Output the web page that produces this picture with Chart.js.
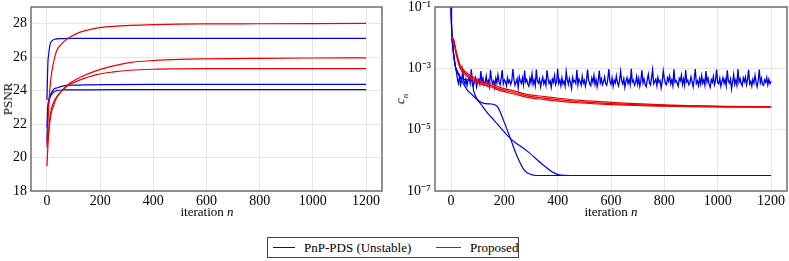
<!DOCTYPE html>
<html>
<head>
<meta charset="utf-8">
<script src="https://cdn.jsdelivr.net/npm/chart.js@4.4.1/dist/chart.umd.min.js"></script>
<style>
    body { margin: 0; background: #fff; font-family: "Liberation Serif", serif; }
    #wrap { position: relative; width: 789px; height: 261px; overflow: hidden; }
    .box { position: absolute; top: 0; height: 225px; }
    .lbl { position: absolute; font-size: 13px; color: #000; white-space: nowrap; transform: translate(-50%, -50%); }
    .rot { transform: translate(-50%, -50%) rotate(-90deg); }
    #legend { position: absolute; left: 267px; top: 237px; width: 252px; height: 21px; box-sizing: border-box; border: 1px solid #444; font-size: 13px; }
    #legend span { position: absolute; }
    #legend .ln { top: 9px; height: 1.2px; }
    #legend .tx { top: 2px; }
</style>
</head>
<body>
<div id="wrap">
    <div class="box" style="left:0; width:390px;"><canvas id="psnrChart"></canvas></div>
    <div class="box" style="left:390px; width:399px;"><canvas id="cnChart"></canvas></div>

    <div class="lbl rot" style="left:8px; top:99px;">PSNR</div>
    <div class="lbl" style="left:207px; top:212px;">iteration <i>n</i></div>
    <div class="lbl rot" style="left:401px; top:99px;"><i>c</i><sub style="font-size:9px;"><i>n</i></sub></div>
    <div class="lbl" style="left:611px; top:212px;">iteration <i>n</i></div>

    <div id="legend">
        <span class="ln" style="left:5px; width:22px; background:#0000ee;"></span>
        <span class="tx" style="left:36px;">PnP-PDS (Unstable)</span>
        <span class="ln" style="left:168px; width:25px; background:#ee0000;"></span>
        <span class="tx" style="left:202px;">Proposed</span>
    </div>
</div>

<script>
'use strict';

// ---- 왼쪽: PSNR ----
var iterTicks = [0, 200, 400, 600, 800, 1000, 1200];
var psnrTicks = [18, 20, 22, 24, 26, 28];

var psnrIterBlue1 = [0, 2, 4, 6, 9, 12, 19, 31, 50, 100, 400, 800, 1200];
var psnrBlue1 = [23.44, 24.8, 25.8, 26.1, 26.5, 26.78, 26.98, 27.08, 27.11, 27.12, 27.12, 27.12, 27.12];

var psnrIterBlue = [0, 3, 6, 12, 25, 37, 62, 100, 150, 400, 800, 1200];
var psnrBlue2 = [21.8, 23.0, 23.4, 23.7, 24.08, 24.16, 24.28, 24.33, 24.35, 24.37, 24.37, 24.37];
var psnrBlue3 = [21.0, 22.6, 23.2, 23.6, 23.92, 24.0, 24.04, 24.05, 24.05, 24.06, 24.06, 24.06];

var psnrIterRed = [0, 3, 6, 12, 18, 25, 37, 50, 62, 87, 125, 187, 250, 312, 400, 500, 600, 800, 1000, 1200];
var psnrRed1 = [20.78, 21.8, 22.9, 24.3, 25.1, 25.7, 26.4, 26.7, 26.9, 27.2, 27.5, 27.74, 27.84, 27.9, 27.95, 27.98, 27.99, 28.0, 28.01, 28.02];
var psnrRed2 = [19.48, 20.5, 21.3, 22.3, 22.8, 23.1, 23.6, 23.88, 24.1, 24.45, 24.8, 25.2, 25.48, 25.68, 25.8, 25.87, 25.9, 25.93, 25.95, 25.96];
var psnrRed3 = [20.6, 21.0, 21.5, 22.5, 23.0, 23.3, 23.64, 23.88, 24.08, 24.38, 24.64, 24.96, 25.12, 25.22, 25.28, 25.3, 25.31, 25.32, 25.32, 25.32];

// ---- 오른쪽: c_n (log) ----
var cnTicks = [1e-7, 1e-5, 1e-3, 1e-1];
var cnTickLabels = ['10\u207B\u2077', '10\u207B\u2075', '10\u207B\u00B3', '10\u207B\u00B9'];

// unstable run: start, then noisy plateau sampled every 4 iterations from n = 24
var cnIterUnstableHead = [0, 2, 4, 7, 10, 16, 20];
var cnUnstableHead = [1e-1, 2.5e-2, 1e-2, 5e-3, 2.8e-3, 1.2e-3, 8e-4];
var cnNoiseStart = 24, cnNoiseStep = 4;
var cnUnstableNoise = [
    4.6e-4, 3.2e-4, 5.4e-4, 2.9e-4, 4.1e-4, 8.7e-4, 3.8e-4, 3.0e-4, 4.5e-4, 2.7e-4,
    3.9e-4, 5.1e-4, 3.3e-4, 9.3e-4, 4.2e-4, 2.8e-4, 3.6e-4, 4.9e-4, 2.5e-4, 3.7e-4,
    4.4e-4, 3.1e-4, 8.2e-4, 3.5e-4, 4.8e-4, 2.9e-4, 3.4e-4, 5.6e-4, 3.0e-4, 4.0e-4,
    2.6e-4, 9.0e-4, 4.3e-4, 3.2e-4, 3.9e-4, 2.4e-4, 4.7e-4, 3.3e-4, 6.2e-4, 3.6e-4,
    2.9e-4, 4.5e-4, 8.8e-4, 3.1e-4, 4.2e-4, 3.7e-4, 2.7e-4, 5.0e-4, 3.4e-4, 4.1e-4,
    3.0e-4, 3.8e-4, 9.5e-4, 4.4e-4, 2.8e-4, 3.5e-4, 4.6e-4, 2.3e-4, 5.3e-4, 3.9e-4,
    3.2e-4, 4.9e-4, 2.9e-4, 8.4e-4, 3.6e-4, 4.3e-4, 3.1e-4, 2.6e-4, 4.8e-4, 3.4e-4,
    6.5e-4, 3.0e-4, 4.1e-4, 2.7e-4, 9.2e-4, 3.8e-4, 3.3e-4, 4.5e-4, 2.5e-4, 3.7e-4,
    5.2e-4, 3.1e-4, 4.0e-4, 2.8e-4, 8.6e-4, 4.6e-4, 3.2e-4, 3.9e-4, 2.4e-4, 4.4e-4,
    3.5e-4, 5.8e-4, 2.9e-4, 3.6e-4, 9.7e-4, 3.3e-4, 4.2e-4, 2.7e-4, 4.9e-4, 3.1e-4,
    3.8e-4, 2.6e-4, 7.9e-4, 4.3e-4, 3.0e-4, 4.7e-4, 3.4e-4, 2.2e-4, 5.1e-4, 3.6e-4,
    4.0e-4, 3.2e-4, 8.9e-4, 2.9e-4, 4.5e-4, 3.7e-4, 2.8e-4, 5.5e-4, 3.3e-4, 4.1e-4,
    2.6e-4, 3.9e-4, 9.1e-4, 4.2e-4, 3.1e-4, 2.7e-4, 4.8e-4, 3.5e-4, 6.0e-4, 3.0e-4,
    4.3e-4, 2.5e-4, 3.8e-4, 8.5e-4, 3.4e-4, 4.6e-4, 2.9e-4, 3.6e-4, 5.2e-4, 3.2e-4,
    2.8e-4, 4.4e-4, 9.4e-4, 3.7e-4, 3.0e-4, 4.9e-4, 2.6e-4, 4.1e-4, 3.3e-4, 5.7e-4,
    3.5e-4, 2.7e-4, 4.0e-4, 8.0e-4, 3.9e-4, 3.1e-4, 4.6e-4, 2.4e-4, 3.8e-4, 5.0e-4,
    3.2e-4, 4.3e-4, 2.9e-4, 9.6e-4, 3.6e-4, 4.1e-4, 2.8e-4, 3.4e-4, 5.4e-4, 3.0e-4,
    4.7e-4, 2.6e-4, 3.9e-4, 8.7e-4, 3.3e-4, 4.5e-4, 3.0e-4, 2.5e-4, 4.2e-4, 6.4e-4,
    3.4e-4, 2.9e-4, 4.8e-4, 9.0e-4, 3.1e-4, 3.7e-4, 4.4e-4, 2.7e-4, 5.1e-4, 3.5e-4,
    4.0e-4, 2.3e-4, 3.6e-4, 8.3e-4, 4.6e-4, 3.2e-4, 2.9e-4, 4.9e-4, 3.8e-4, 5.6e-4,
    3.1e-4, 4.2e-4, 2.7e-4, 9.3e-4, 3.5e-4, 4.0e-4, 3.3e-4, 2.6e-4, 4.7e-4, 3.9e-4,
    6.1e-4, 3.0e-4, 4.4e-4, 2.8e-4, 8.8e-4, 3.6e-4, 4.1e-4, 2.9e-4, 3.4e-4, 5.3e-4,
    3.7e-4, 2.5e-4, 4.5e-4, 9.5e-4, 3.2e-4, 3.9e-4, 2.7e-4, 4.6e-4, 3.1e-4, 5.8e-4,
    3.3e-4, 4.2e-4, 2.8e-4, 8.1e-4, 3.6e-4, 4.8e-4, 3.0e-4, 2.4e-4, 4.3e-4, 3.5e-4,
    5.5e-4, 2.9e-4, 4.0e-4, 9.2e-4, 3.4e-4, 3.1e-4, 4.7e-4, 2.6e-4, 3.8e-4, 5.0e-4,
    3.2e-4, 4.4e-4, 2.7e-4, 8.6e-4, 3.9e-4, 3.3e-4, 4.5e-4, 2.1e-4, 3.6e-4, 6.3e-4,
    3.0e-4, 4.1e-4, 2.8e-4, 9.4e-4, 3.5e-4, 4.6e-4, 3.2e-4, 2.7e-4, 4.9e-4, 3.7e-4,
    5.2e-4, 2.9e-4, 4.3e-4, 8.9e-4, 3.1e-4, 3.8e-4, 2.6e-4, 4.4e-4, 3.3e-4, 5.9e-4,
    3.6e-4, 2.5e-4, 4.0e-4, 9.1e-4, 3.4e-4, 4.7e-4, 3.0e-4, 2.8e-4, 4.2e-4, 3.5e-4,
    5.0e-4, 2.9e-4, 4.4e-4, 3.2e-4, 3.8e-4
];

var cnIterBlueA = [0, 2, 4, 7, 10, 16, 25, 35, 62, 73, 110, 138, 160, 223, 286, 348, 386, 411, 450, 600, 800, 1000, 1200];
var cnBlueA = [1e-1, 2.5e-2, 1e-2, 5e-3, 2.8e-3, 1.2e-3, 7.8e-4, 4.8e-4, 1.9e-4, 1.55e-4, 7.2e-5, 3.4e-5, 2.1e-5, 5.1e-6, 2.0e-6, 6.8e-7, 3.9e-7, 3.3e-7, 3.2e-7, 3.2e-7, 3.2e-7, 3.2e-7, 3.2e-7];

var cnIterBlueB = [0, 2, 4, 7, 10, 16, 20, 30, 45, 60, 76, 82, 86, 98, 123, 148, 173, 198, 223, 248, 273, 298, 320, 400, 600, 800, 1000, 1200];
var cnBlueB = [1e-1, 2.5e-2, 1e-2, 5e-3, 2.8e-3, 1.2e-3, 8.5e-4, 5.8e-4, 4.5e-4, 4.2e-4, 4.1e-4, 2.6e-4, 1.7e-4, 1.0e-4, 7.2e-5, 6.9e-5, 5.8e-5, 1.9e-5, 5.1e-6, 1.35e-6, 5e-7, 3.5e-7, 3.2e-7, 3.2e-7, 3.2e-7, 3.2e-7, 3.2e-7, 3.2e-7];

var cnIterRed = [0, 3, 6, 10, 16, 23, 35, 54, 85, 110, 148, 185, 240, 286, 350, 411, 486, 600, 775, 1024, 1200];
var cnRed1 = [1.05e-2, 1.03e-2, 9.8e-3, 8.9e-3, 5.0e-3, 2.7e-3, 1.25e-3, 7.8e-4, 5.1e-4, 3.95e-4, 3.15e-4, 2.35e-4, 1.8e-4, 1.42e-4, 1.2e-4, 1.04e-4, 9.0e-5, 7.8e-5, 6.6e-5, 5.8e-5, 5.6e-5];
var cnRed2 = [1.0e-2, 9.8e-3, 9.2e-3, 8.3e-3, 4.5e-3, 2.4e-3, 1.1e-3, 6.9e-4, 4.5e-4, 3.5e-4, 2.8e-4, 2.1e-4, 1.6e-4, 1.26e-4, 1.07e-4, 9.3e-5, 8.1e-5, 7.1e-5, 6.2e-5, 5.6e-5, 5.5e-5];
var cnRed3 = [9.6e-3, 9.4e-3, 8.7e-3, 7.6e-3, 4.0e-3, 2.1e-3, 9.7e-4, 6.1e-4, 4.0e-4, 3.1e-4, 2.5e-4, 1.87e-4, 1.43e-4, 1.13e-4, 9.6e-5, 8.4e-5, 7.4e-5, 6.6e-5, 5.9e-5, 5.45e-5, 5.4e-5];

var BLUE = '#0000ee';
var RED = '#ee0000';
var tickFont = { family: '"Liberation Serif", serif', size: 14 };

Chart.defaults.font.family = '"Liberation Serif", serif';
Chart.defaults.font.size = 13;
Chart.defaults.color = '#000';

function pts(xs, ys) {
    return xs.map(function (x, i) { return { x: x, y: ys[i] }; });
}

function line(xs, ys, color, smooth) {
    return {
        data: pts(xs, ys),
        borderColor: color,
        borderWidth: smooth ? 1.2 : 1.3,
        pointRadius: 0,
        fill: false,
        tension: 0,
        cubicInterpolationMode: smooth ? 'monotone' : 'default',
        order: color === RED ? 0 : 1
    };
}

// 테두리
var framePlugin = {
    id: 'frame',
    afterDraw: function (chart) {
        var a = chart.chartArea, ctx = chart.ctx;
        ctx.save();
        ctx.strokeStyle = '#6e6e6e';
        ctx.lineWidth = 1.5;
        ctx.strokeRect(a.left, a.top, a.right - a.left, a.bottom - a.top);
        ctx.restore();
    }
};

function xScale() {
    return {
        type: 'linear',
        min: -60,
        max: 1260,
        afterBuildTicks: function (s) { s.ticks = iterTicks.map(function (v) { return { value: v }; }); },
        afterFit: function (s) { s.height = 34; s.paddingLeft = 0; s.paddingRight = 0; },
        grid: { color: '#e6e6e6', lineWidth: 1, drawTicks: false },
        border: { display: false },
        ticks: {
            font: tickFont,
            padding: 2,
            maxRotation: 0,
            callback: function (v) { return String(v); }
        }
    };
}

var common = {
    animation: false,
    responsive: true,
    maintainAspectRatio: false,
    plugins: { legend: { display: false }, tooltip: { enabled: false } }
};

new Chart(document.getElementById('psnrChart').getContext('2d'), {
    type: 'line',
    data: {
        datasets: [
            line(psnrIterBlue1, psnrBlue1, BLUE, true),
            line(psnrIterBlue, psnrBlue2, BLUE, true),
            line(psnrIterBlue, psnrBlue3, BLUE, true),
            line(psnrIterRed, psnrRed1, RED, true),
            line(psnrIterRed, psnrRed2, RED, true),
            line(psnrIterRed, psnrRed3, RED, true)
        ]
    },
    options: Object.assign({}, common, {
        layout: { padding: { top: 7, right: 8, left: 0, bottom: 0 } },
        scales: {
            x: xScale(),
            y: {
                type: 'linear',
                min: 18,
                max: 29,
                afterBuildTicks: function (s) { s.ticks = psnrTicks.map(function (v) { return { value: v }; }); },
                afterFit: function (s) { s.width = 31; s.paddingTop = 0; s.paddingBottom = 0; },
                grid: { color: '#e6e6e6', lineWidth: 1, drawTicks: false },
                border: { display: false },
                ticks: { font: tickFont, padding: 4 }
            }
        }
    }),
    plugins: [framePlugin]
});

var unstableIter = cnIterUnstableHead.concat(cnUnstableNoise.map(function (v, i) { return cnNoiseStart + i * cnNoiseStep; }));
var unstableVals = cnUnstableHead.concat(cnUnstableNoise);

new Chart(document.getElementById('cnChart').getContext('2d'), {
    type: 'line',
    data: {
        datasets: [
            line(unstableIter, unstableVals, BLUE, false),
            line(cnIterBlueA, cnBlueA, BLUE, true),
            line(cnIterBlueB, cnBlueB, BLUE, true),
            line(cnIterRed, cnRed1, RED, true),
            line(cnIterRed, cnRed2, RED, true),
            line(cnIterRed, cnRed3, RED, true)
        ]
    },
    options: Object.assign({}, common, {
        layout: { padding: { top: 7, right: 2, left: 0, bottom: 0 } },
        scales: {
            x: xScale(),
            y: {
                type: 'logarithmic',
                min: 1e-7,
                max: 1e-1,
                afterBuildTicks: function (s) { s.ticks = cnTicks.map(function (v) { return { value: v }; }); },
                afterFit: function (s) { s.width = 45; s.paddingTop = 0; s.paddingBottom = 0; },
                grid: { color: '#e6e6e6', lineWidth: 1, drawTicks: false },
                border: { display: false },
                ticks: {
                    font: tickFont,
                    padding: 4,
                    callback: function (v, i) { return cnTickLabels[i]; }
                }
            }
        }
    }),
    plugins: [framePlugin]
});
</script>
</body>
</html>
